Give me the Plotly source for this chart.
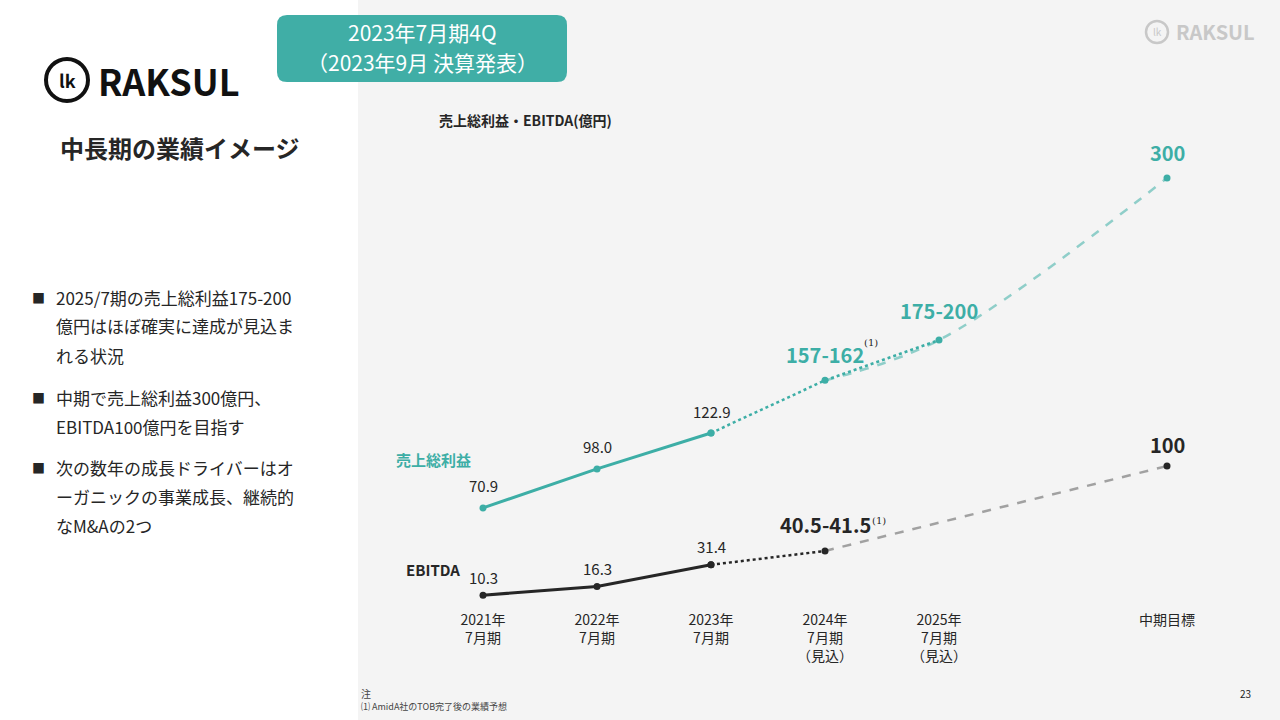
import plotly.graph_objects as go

CATS = ["2021年<br>7月期", "2022年<br>7月期", "2023年<br>7月期",
        "2024年<br>7月期<br>（見込）", "2025年<br>7月期<br>（見込）", " ", "中期目標"]

GP_ACT_X = CATS[:3]
GP_ACT = [70.9, 98.0, 122.9]
GP_FC_X = [CATS[2], CATS[3], CATS[4]]
GP_FC = [122.9, 159.5, 187.5]
GP_FC_LABELS = ["157-162", "175-200"]
GP_TARGET = 300

EB_ACT_X = CATS[:3]
EB_ACT = [10.3, 16.3, 31.4]
EB_FC_X = [CATS[2], CATS[3]]
EB_FC = [31.4, 41.0]
EB_FC_LABEL = "40.5-41.5"
EB_TARGET = 100

BULLETS = [
    ["2025/7期の売上総利益175-200", "億円はほぼ確実に達成が見込ま", "れる状況"],
    ["中期で売上総利益300億円、", "EBITDA100億円を目指す"],
    ["次の数年の成長ドライバーはオ", "ーガニックの事業成長、継続的", "なM&amp;Aの2つ"],
]

TEAL = "#3daea6"
DARK = "#262626"
FONT = "Noto Sans CJK JP"

fig = go.Figure()
# actuals
fig.add_trace(go.Scatter(x=GP_ACT_X, y=GP_ACT, mode="lines+markers",
                         line=dict(color=TEAL, width=3), marker=dict(size=7, color=TEAL)))
fig.add_trace(go.Scatter(x=EB_ACT_X, y=EB_ACT, mode="lines+markers",
                         line=dict(color=DARK, width=3), marker=dict(size=7, color=DARK)))
# forecasts (dotted)
fig.add_trace(go.Scatter(x=GP_FC_X, y=GP_FC, mode="lines+markers",
                         line=dict(color=TEAL, width=2.5, dash="dot"), marker=dict(size=7, color=TEAL)))
fig.add_trace(go.Scatter(x=EB_FC_X, y=EB_FC, mode="lines+markers",
                         line=dict(color=DARK, width=2.5, dash="dot"), marker=dict(size=7, color=DARK)))
# mid-term targets (dashed, faded)
fig.add_trace(go.Scatter(x=[CATS[3], CATS[4], CATS[6]], y=[GP_FC[1], GP_FC[2], GP_TARGET],
                         mode="lines", line=dict(color="rgba(61,174,166,0.55)", width=2.5, dash="dash", shape="spline")))
fig.add_trace(go.Scatter(x=[CATS[6]], y=[GP_TARGET], mode="markers", marker=dict(size=7, color=TEAL)))
fig.add_trace(go.Scatter(x=[CATS[3], CATS[6]], y=[EB_FC[1], EB_TARGET],
                         mode="lines", line=dict(color="rgba(38,38,38,0.4)", width=2.5, dash="dash")))
fig.add_trace(go.Scatter(x=[CATS[6]], y=[EB_TARGET], mode="markers", marker=dict(size=7, color=DARK)))

ann = []


def lab(x, y, t, color, size, bold=False, dy=-22):
    ann.append(dict(x=x, y=y, xref="x", yref="y", text=f"<b>{t}</b>" if bold else t, showarrow=False,
                    yshift=-dy, font=dict(color=color, size=size, family=FONT)))


for x, v in zip(GP_ACT_X, GP_ACT):
    lab(x, v, f"{v:.1f}", DARK, 15)
for x, v in zip(EB_ACT_X, EB_ACT):
    lab(x, v, f"{v:.1f}", DARK, 15, dy=-18)
lab(CATS[3], GP_FC[1], GP_FC_LABELS[0], TEAL, 20, True, dy=-26)
lab(CATS[4], GP_FC[2], GP_FC_LABELS[1], TEAL, 20, True, dy=-30)
lab(CATS[6], GP_TARGET, str(GP_TARGET), TEAL, 20, True, dy=-26)
lab(CATS[3], EB_FC[1], EB_FC_LABEL, DARK, 20, True, dy=-26)
lab(CATS[6], EB_TARGET, str(EB_TARGET), DARK, 20, True, dy=-22)
for x, y, xs, ys in [(CATS[3], GP_FC[1], 46, 38), (CATS[3], EB_FC[1], 54, 30)]:
    ann.append(dict(x=x, y=y, xref="x", yref="y", text="(1)", showarrow=False, xshift=xs, yshift=ys,
                    font=dict(size=10, color=DARK, family="DejaVu Serif")))
ann.append(dict(x=CATS[0], y=GP_ACT[0], xref="x", yref="y", text="<b>売上総利益</b>", showarrow=False,
                xshift=-50, yshift=48, font=dict(color=TEAL, size=15, family=FONT)))
ann.append(dict(x=CATS[0], y=EB_ACT[0], xref="x", yref="y", text="<b>EBITDA</b>", showarrow=False,
                xshift=-50, yshift=26, font=dict(color=DARK, size=15, family=FONT)))


# page texts (pixel positions from top-left)
def ptxt(x, y, t, size, color=DARK, xa="left", ya="middle", family=FONT):
    ann.append(dict(x=x / 1280, y=1 - y / 720, xref="paper", yref="paper", text=t, showarrow=False,
                    xanchor=xa, yanchor=ya, align="left", font=dict(size=size, color=color, family=family)))


ptxt(422, 32, "2023年7月期4Q", 21, "white", xa="center")
ptxt(422, 62, "（2023年9月 決算発表）", 21, "white", xa="center")
ptxt(96, 80, "<b>RAKSUL</b>", 36, "#111")
ptxt(67, 80, "<b>lk</b>", 18, "#111", xa="center")
ptxt(58, 148, "<b>中長期の業績イメージ</b>", 24)
ptxt(437, 120, "<b>売上総利益・EBITDA(億円)</b>", 14)
for y0, lines in zip([297, 397, 467], BULLETS):
    ptxt(30, y0, "■", 13)
    for i, line in enumerate(lines):
        ptxt(54, y0 + i * 29, line, 17)
ptxt(1174, 32, "<b>RAKSUL</b>", 20, "#c8c8c8")
ptxt(1157, 32, "lk", 10, "#c8c8c8", xa="center")
ptxt(359, 693, "注", 10, "#444")
ptxt(359, 706, "⑴ AmidA社のTOB完了後の業績予想", 9, "#444")
ptxt(1253, 693, "23", 10, "#222", xa="right")


def rounded(x0, y0, x1, y1, r):
    X = lambda v: v / 1280
    Y = lambda v: 1 - v / 720
    rx, ry = r / 1280, r / 720
    return (f"M {X(x0)+rx},{Y(y0)} L {X(x1)-rx},{Y(y0)} Q {X(x1)},{Y(y0)} {X(x1)},{Y(y0)-ry} "
            f"L {X(x1)},{Y(y1)+ry} Q {X(x1)},{Y(y1)} {X(x1)-rx},{Y(y1)} L {X(x0)+rx},{Y(y1)} "
            f"Q {X(x0)},{Y(y1)} {X(x0)},{Y(y1)+ry} L {X(x0)},{Y(y0)-ry} Q {X(x0)},{Y(y0)} {X(x0)+rx},{Y(y0)} Z")


shapes = [
    dict(type="rect", xref="paper", yref="paper", x0=0, x1=358 / 1280, y0=0, y1=1,
         fillcolor="white", line_width=0, layer="below"),
    dict(type="path", xref="paper", yref="paper", path=rounded(277, 15, 567, 82, 10),
         fillcolor="#40aea6", line_width=0, layer="below"),
    dict(type="circle", xref="paper", yref="paper", x0=46 / 1280, x1=88 / 1280, y0=1 - 101 / 720, y1=1 - 59 / 720,
         line=dict(color="#111", width=4)),
    dict(type="circle", xref="paper", yref="paper", x0=1146 / 1280, x1=1168 / 1280, y0=1 - 43 / 720, y1=1 - 21 / 720,
         line=dict(color="#c8c8c8", width=2.5)),
]

fig.update_layout(
    width=1280, height=720, showlegend=False,
    margin=dict(l=0, r=0, t=0, b=0),
    paper_bgcolor="#f4f4f4", plot_bgcolor="rgba(0,0,0,0)",
    font=dict(family=FONT, color=DARK),
    xaxis=dict(type="category", categoryorder="array", categoryarray=CATS, range=[-0.5, 6.5],
               domain=[426 / 1280, 1224 / 1280], showgrid=False, zeroline=False, showline=False,
               tickfont=dict(size=14, color=DARK), ticklen=0),
    yaxis=dict(range=[0, 319.5], domain=[110 / 720, 570 / 720], visible=False),
    annotations=ann, shapes=shapes,
)
fig.write_html("out.html", config={"displayModeBar": False})

# drop the default page margin so the figure sits at the window's top-left
with open("out.html", encoding="utf-8") as f:
    html = f.read()
html = html.replace("<body>", '<body style="margin:0">', 1)
with open("out.html", "w", encoding="utf-8") as f:
    f.write(html)
